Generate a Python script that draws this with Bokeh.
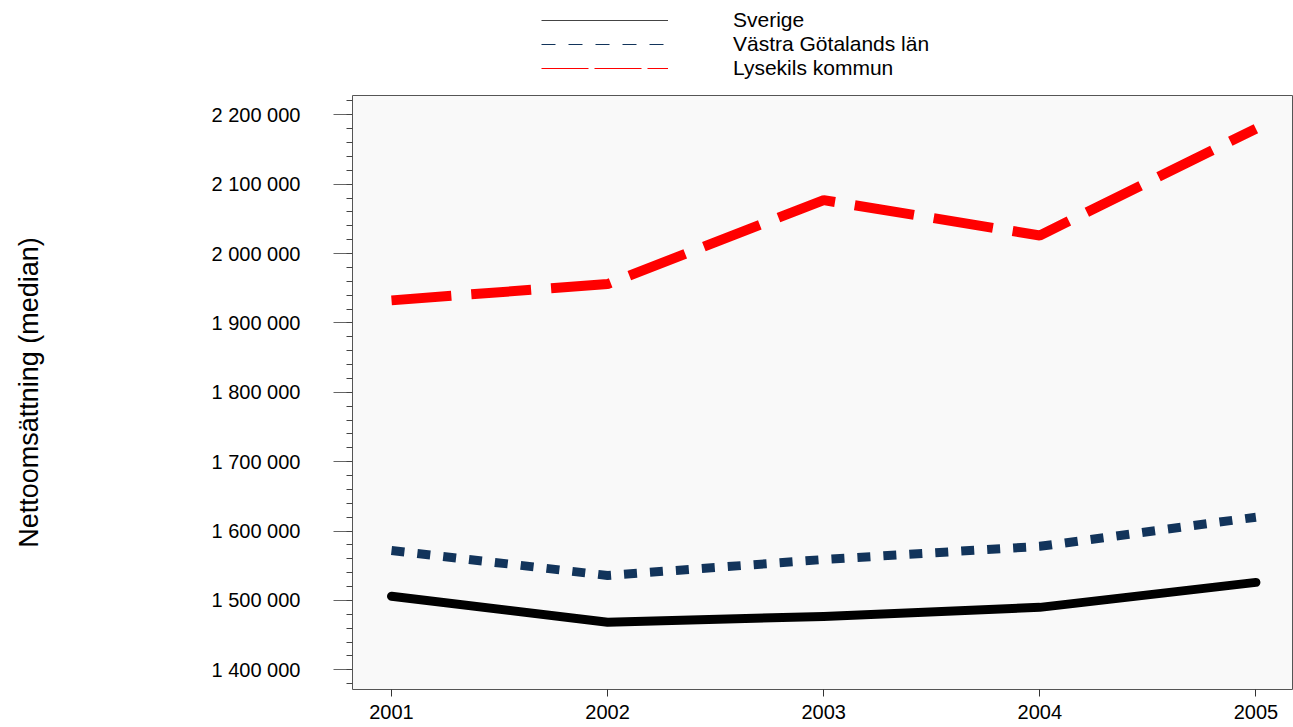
from bokeh.plotting import figure
from bokeh.layouts import column
from bokeh.models import (Range1d, FixedTicker, SingleIntervalTicker, CustomJSTickFormatter,
                          Legend, LegendItem, ColumnDataSource)
from bokeh.embed import file_html
from bokeh.resources import INLINE

# ---- data ----
years = [2001, 2002, 2003, 2004, 2005]
year_labels = ["2001", "2002", "2003", "2004", "2005"]
sverige = [1506000, 1468600, 1477000, 1490000, 1526000]
vastra_gotaland = [1572000, 1536000, 1559000, 1578000, 1620000]
lysekil = [1932500, 1956000, 2077000, 2026000, 2180000]
series_names = ["Sverige", "Västra Götalands län", "Lysekils kommun"]
y_title = "Nettoomsättning (median)"

FONT = "Liberation Sans"

# ---- main chart ----
p = figure(width=1293, height=632, output_backend="svg", toolbar_location=None,
           x_range=Range1d(2000.8195, 2005.174), y_range=Range1d(1371600, 2227800),
           min_border_left=352, min_border_top=0, min_border_bottom=38, min_border_right=0)

p.background_fill_color = "#f9f9f9"
p.border_fill_color = "white"
p.outline_line_color = "#555555"
p.outline_line_width = 1
p.xgrid.visible = False
p.ygrid.visible = False

# x axis
xa = p.xaxis[0]
xa.ticker = FixedTicker(ticks=years)
xa.major_label_overrides = {y: l for y, l in zip(years, year_labels)}
xa.axis_line_color = None
xa.major_tick_in = 0
xa.major_tick_out = 7
xa.major_tick_line_color = "#333333"
xa.minor_tick_line_color = None
xa.major_label_standoff = 8
xa.major_label_text_font = FONT
xa.major_label_text_font_size = "20px"
xa.major_label_text_color = "black"

# y axis
ya = p.yaxis[0]
ya.ticker = SingleIntervalTicker(interval=100000, num_minor_ticks=5)
ya.formatter = CustomJSTickFormatter(
    code="return Math.round(tick).toString().replace(/\\B(?=(\\d{3})+(?!\\d))/g, ' ');")
ya.axis_line_color = None
ya.major_tick_in = 0
ya.major_tick_out = 19
ya.minor_tick_in = 0
ya.minor_tick_out = 6
ya.major_tick_line_color = "#666666"
ya.minor_tick_line_color = "#444444"
ya.major_label_standoff = 33
ya.major_label_text_font = FONT
ya.major_label_text_font_size = "20px"
ya.major_label_text_color = "black"
ya.axis_label = y_title
ya.axis_label_text_font = FONT
ya.axis_label_text_font_size = "27px"
ya.axis_label_text_font_style = "normal"
ya.axis_label_text_color = "black"
ya.axis_label_standoff = 165

src = ColumnDataSource(dict(x=years, sv=sverige, vg=vastra_gotaland, ly=lysekil))

p.line("x", "ly", source=src, line_color="#ff0000", line_width=10,
       line_dash="60 20", line_cap="butt")
p.line("x", "vg", source=src, line_color="#12345b", line_width=9,
       line_dash="13 13", line_cap="butt")
p.line("x", "sv", source=src, line_color="black", line_width=9,
       line_cap="round", line_join="round")

# ---- legend strip above the chart (its own renderers lie outside its ranges) ----
top = figure(width=1293, height=95, output_backend="svg", toolbar_location=None,
             x_range=Range1d(0, 1), y_range=Range1d(0, 1),
             min_border_left=352, min_border_right=0, min_border_top=0, min_border_bottom=0)
top.axis.visible = False
top.xgrid.visible = False
top.ygrid.visible = False
top.outline_line_color = None
top.background_fill_color = "white"

l1 = top.line("x", "sv", source=src, line_color="#444444", line_width=1)
l2 = top.line("x", "vg", source=src, line_color="#12345b", line_width=1, line_dash="14 13")
l3 = top.line("x", "ly", source=src, line_color="#ff0000", line_width=1, line_dash="47 6")

legend = Legend(items=[LegendItem(label=series_names[0], renderers=[l1]),
                       LegendItem(label=series_names[1], renderers=[l2]),
                       LegendItem(label=series_names[2], renderers=[l3])],
                location=(189, 15), orientation="vertical",
                glyph_width=127, glyph_height=24, label_height=24, label_standoff=65,
                spacing=0, padding=0, margin=0,
                label_text_font=FONT, label_text_font_size="21px",
                label_text_color="black",
                border_line_color=None, background_fill_alpha=0)
top.add_layout(legend, "center")

layout = column(top, p, spacing=0)
open("out.html", "w").write(file_html(layout, INLINE))
